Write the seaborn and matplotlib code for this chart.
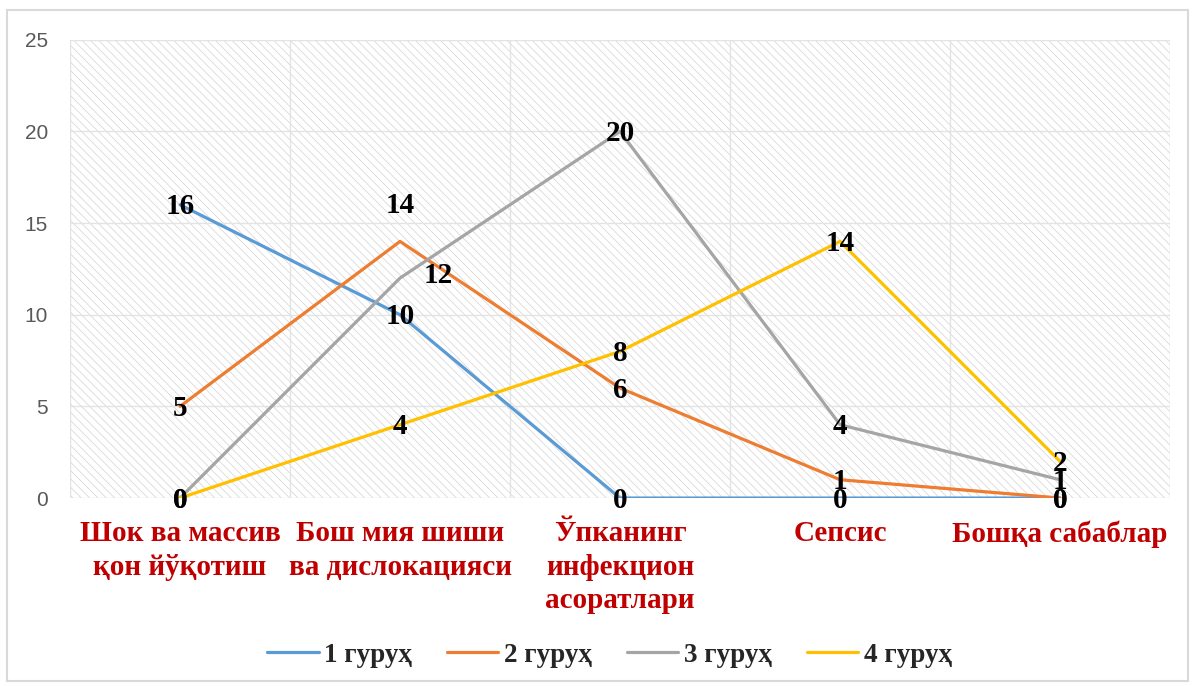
import matplotlib
matplotlib.use("Agg")
import matplotlib.pyplot as plt
from matplotlib.patches import FancyBboxPatch
import seaborn as sns
import pandas as pd

# Categories (causes) and per-group counts
categories = ["Шок ва массив\nқон йўқотиш", "Бош мия шиши\nва дислокацияси",
              "Ўпканинг\nинфекцион\nасоратлари", "Сепсис", "Бошқа сабаблар"]
group_names = ["1 гуруҳ", "2 гуруҳ", "3 гуруҳ", "4 гуруҳ"]
group1 = [16, 10, 0, 0, 0]
group2 = [5, 14, 6, 1, 0]
group3 = [0, 12, 20, 4, 1]
group4 = [0, 4, 8, 14, 2]
y_ticks = [0, 5, 10, 15, 20, 25]

colors = ["#5B9BD5", "#ED7D31", "#A5A5A5", "#FFC000"]

sns.set_theme(style="white")
plt.rcParams["font.family"] = ["Liberation Serif", "DejaVu Serif"]
plt.rcParams["hatch.linewidth"] = 0.5

series = [group1, group2, group3, group4]
rows = []
for name, vals in zip(group_names, series):
    for i, v in enumerate(vals):
        rows.append({"cat": i, "value": v, "group": name})
df = pd.DataFrame(rows)

fig = plt.figure(figsize=(11.95, 6.86), dpi=100)
ax = fig.add_axes([0.0586, 0.274, 0.9205, 0.668])

# fine diagonal hatching on the plot background
ax.patch.set_facecolor("white")
ax.patch.set_hatch("\\\\\\\\")
ax.patch.set_edgecolor("#d2d2d2")
ax.patch.set_linewidth(0)

sns.lineplot(data=df, x="cat", y="value", hue="group", palette=colors,
             linewidth=2.3, sort=False, ax=ax, legend=False, zorder=3)

ax.set_xlim(-0.5, len(categories) - 0.5)
ax.set_ylim(0, 25)
ax.set_yticks(y_ticks)
ax.set_yticklabels([str(t) for t in y_ticks], family="Liberation Sans",
                   fontsize=15, color="#595959")
ax.set_xticks(range(len(categories)))
ax.set_xticklabels(categories, fontsize=21, fontweight="bold", color="#C00000",
                   linespacing=1.3, va="top")
ax.tick_params(axis="x", length=0, pad=16)
ax.tick_params(axis="y", length=0, pad=16)
ax.set_xlabel("")
ax.set_ylabel("")
for s in ax.spines.values():
    s.set_visible(False)

# gridlines: horizontal at ticks, vertical at category boundaries
for t in y_ticks:
    ax.axhline(t, color="#e3e3e3", linewidth=1.0, zorder=1)
for b in range(len(categories) + 1):
    ax.axvline(b - 0.5, color="#e3e3e3", linewidth=1.0, zorder=1)

# value labels (pixel offsets for the few that sit beside their point)
offsets = {(1, 1): (0, 36), (2, 1): (38, 3)}
for si, vals in enumerate(series):
    for i, v in enumerate(vals):
        dx, dy = offsets.get((si, i), (0, -2))
        ax.annotate(str(v), (i, v), xytext=(dx * 0.72, dy * 0.72),
                    textcoords="offset points", ha="center", va="center",
                    fontsize=21, fontweight="bold", color="black", zorder=5)

handles = ax.get_lines()[:len(group_names)]
fig.legend(handles, group_names, loc="center", bbox_to_anchor=(0.51, 0.045),
           ncol=4, frameon=False,
           prop={"weight": "bold", "size": 19.5, "family": "Liberation Serif"},
           handlelength=1.9, handletextpad=0.2, columnspacing=1.3)

# outer chart border
fig.patches.append(FancyBboxPatch((0.006, 0.008), 0.988, 0.977,
                                  boxstyle="square,pad=0", transform=fig.transFigure,
                                  facecolor="none", edgecolor="#d9d9d9", linewidth=1.5))

fig.savefig("out.png", dpi=100)
